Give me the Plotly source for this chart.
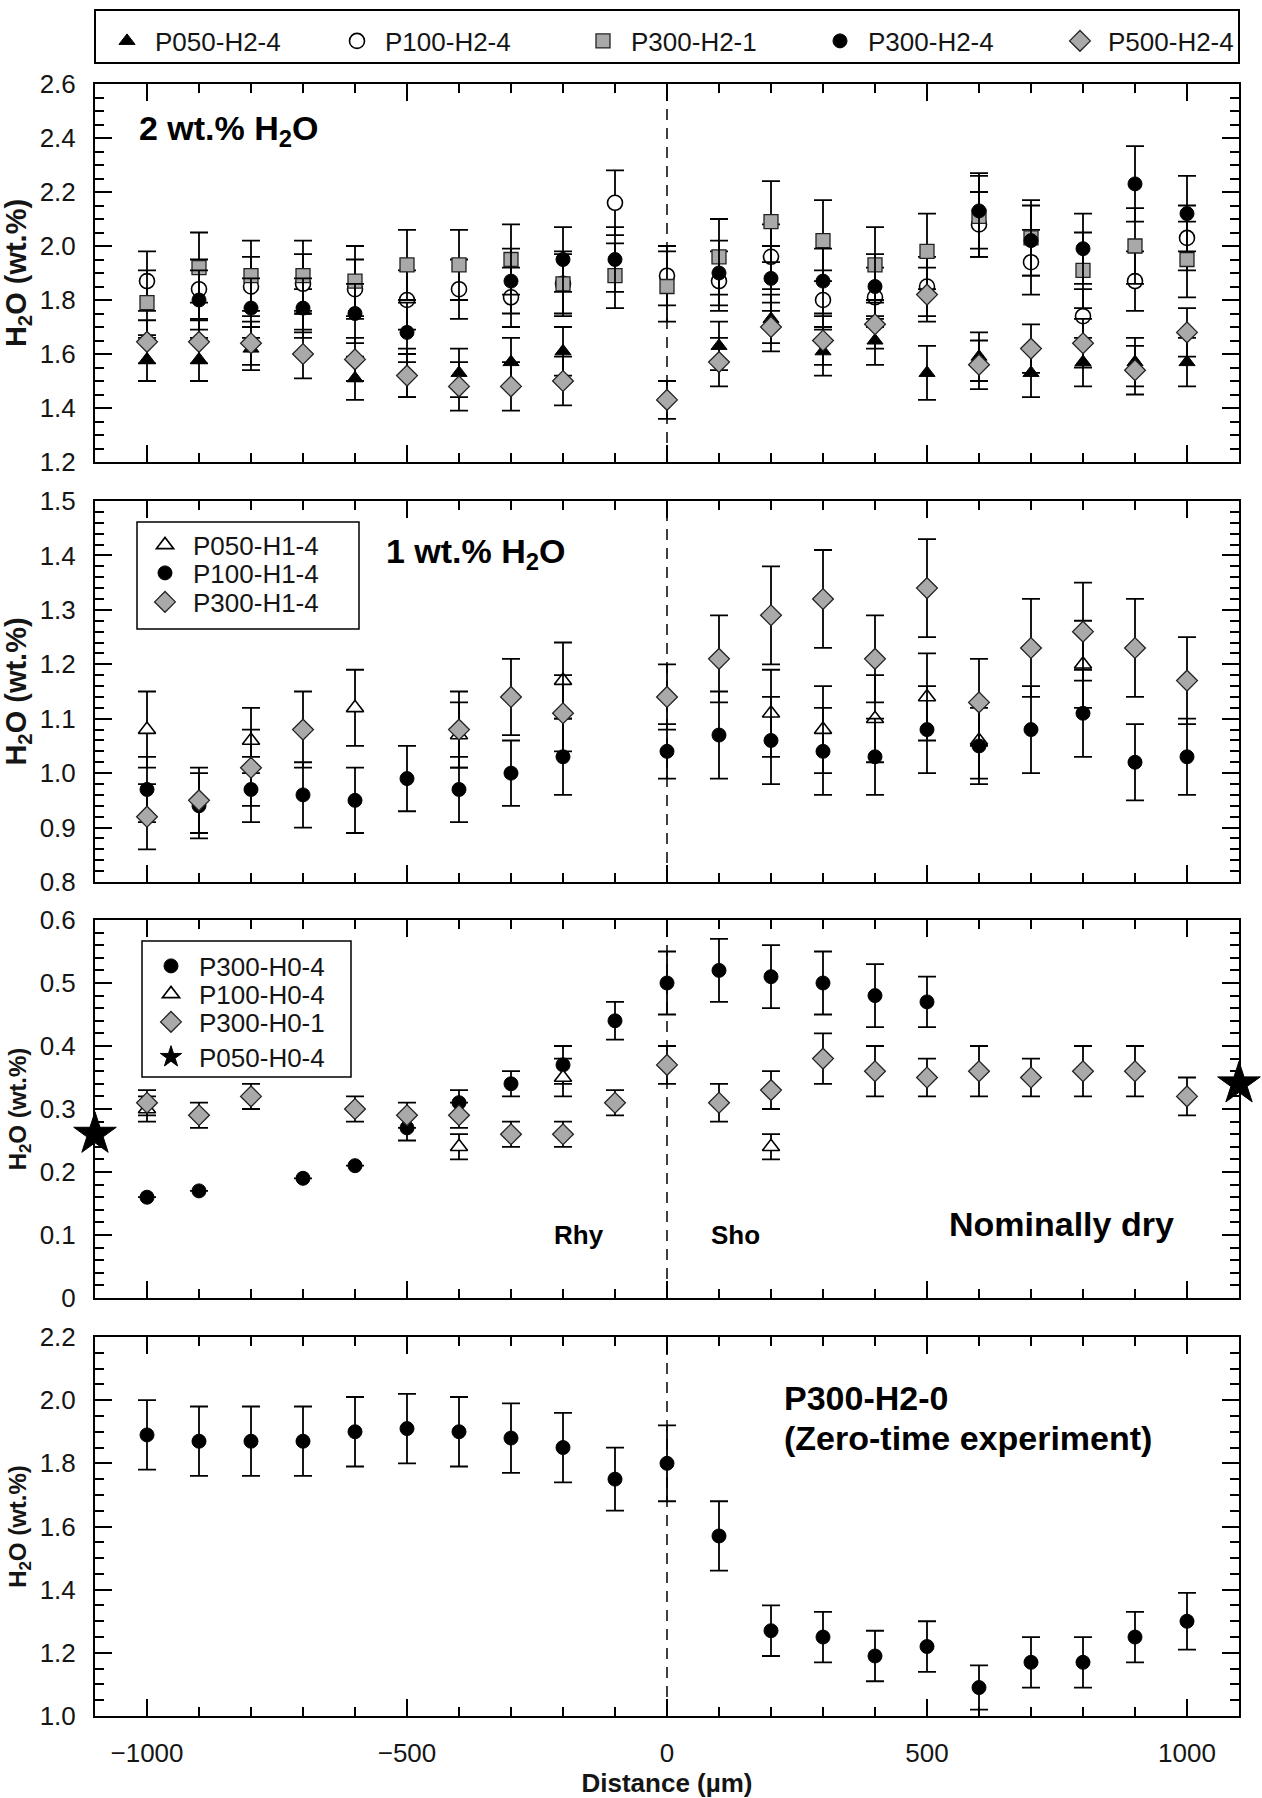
import plotly.graph_objects as go

# Measurement positions across the interface (µm)
distance = [-1000, -900, -800, -700, -600, -500, -400, -300, -200, -100, 0,
            100, 200, 300, 400, 500, 600, 700, 800, 900, 1000]

# ---------------- 2 wt.% H2O experiments ----------------
p050_h2_4 = [1.58, 1.58, 1.62, 1.76, 1.51, 1.53, 1.53, 1.57, 1.61, None, None,
             1.63, 1.73, 1.61, 1.65, 1.53, 1.59, 1.53, 1.57, 1.57, 1.57]
p050_h2_4_err = [0.08, 0.08, 0.08, 0.08, 0.08, 0.09, 0.09, 0.09, 0.09, None, None,
                 0.09, 0.09, 0.09, 0.09, 0.10, 0.09, 0.09, 0.09, 0.09, 0.09]
p100_h2_4 = [1.87, 1.84, 1.85, 1.86, 1.84, 1.80, 1.84, 1.81, 1.86, 2.16, 1.89,
             1.87, 1.96, 1.80, 1.81, 1.85, 2.08, 1.94, 1.74, 1.87, 2.03]
p100_h2_4_err = [0.11, 0.11, 0.11, 0.11, 0.11, 0.11, 0.11, 0.11, 0.11, 0.12, 0.11,
                 0.11, 0.12, 0.11, 0.11, 0.11, 0.12, 0.12, 0.10, 0.11, 0.12]
p300_h2_1 = [1.79, 1.92, 1.89, 1.89, 1.87, 1.93, 1.93, 1.95, 1.86, 1.89, 1.85,
             1.96, 2.09, 2.02, 1.93, 1.98, 2.11, 2.03, 1.91, 2.00, 1.95]
p300_h2_1_err = [0.12, 0.13, 0.13, 0.13, 0.13, 0.13, 0.13, 0.13, 0.12, 0.12, 0.13,
                 0.14, 0.15, 0.15, 0.14, 0.14, 0.15, 0.14, 0.14, 0.14, 0.14]
p300_h2_4 = [None, 1.80, 1.77, 1.77, 1.75, 1.68, None, 1.87, 1.95, 1.95, None,
             1.90, 1.88, 1.87, 1.85, None, 2.13, 2.02, 1.99, 2.23, 2.12]
p300_h2_4_err = [None, 0.11, 0.11, 0.11, 0.11, 0.11, None, 0.12, 0.12, 0.12, None,
                 0.12, 0.12, 0.12, 0.12, None, 0.14, 0.13, 0.13, 0.14, 0.14]
p500_h2_4 = [1.645, 1.645, 1.64, 1.60, 1.58, 1.52, 1.48, 1.48, 1.50, None, 1.43,
             1.57, 1.70, 1.65, 1.71, 1.82, 1.56, 1.62, 1.64, 1.54, 1.68]
p500_h2_4_err = [0.08, 0.08, 0.08, 0.09, 0.08, 0.08, 0.09, 0.09, 0.09, None, 0.07,
                 0.09, 0.09, 0.09, 0.09, 0.10, 0.09, 0.09, 0.09, 0.09, 0.09]

# ---------------- 1 wt.% H2O experiments ----------------
p050_h1_4 = [1.08, None, 1.06, None, 1.12, None, 1.07, None, 1.17, None, None,
             None, 1.11, 1.08, 1.10, 1.14, 1.06, None, 1.20, None, None]
p050_h1_4_err = [0.07, None, 0.06, None, 0.07, None, 0.06, None, 0.07, None, None,
                 None, 0.08, 0.08, 0.08, 0.08, 0.07, None, 0.08, None, None]
p100_h1_4 = [0.97, 0.94, 0.97, 0.96, 0.95, 0.99, 0.97, 1.00, 1.03, None, 1.04,
             1.07, 1.06, 1.04, 1.03, 1.08, 1.05, 1.08, 1.11, 1.02, 1.03]
p100_h1_4_err = [0.06, 0.06, 0.06, 0.06, 0.06, 0.06, 0.06, 0.06, 0.07, None, 0.05,
                 0.08, 0.08, 0.08, 0.07, 0.08, 0.07, 0.08, 0.08, 0.07, 0.07]
p300_h1_4 = [0.92, 0.95, 1.01, 1.08, None, None, 1.08, 1.14, 1.11, None, 1.14,
             1.21, 1.29, 1.32, 1.21, 1.34, 1.13, 1.23, 1.26, 1.23, 1.17]
p300_h1_4_err = [0.06, 0.06, 0.07, 0.07, None, None, 0.07, 0.07, 0.07, None, 0.06,
                 0.08, 0.09, 0.09, 0.08, 0.09, 0.08, 0.09, 0.09, 0.09, 0.08]

# ---------------- nominally dry experiments ----------------
p300_h0_4 = [0.16, 0.17, None, 0.19, 0.21, 0.27, 0.31, 0.34, 0.37, 0.44, 0.50,
             0.52, 0.51, 0.50, 0.48, 0.47, None, None, None, None, None]
p300_h0_4_err = [None, None, None, None, None, 0.02, 0.02, 0.02, 0.03, 0.03, 0.05,
                 0.05, 0.05, 0.05, 0.05, 0.04, None, None, None, None, None]
p100_h0_4 = [0.30, None, None, None, None, None, 0.24, None, 0.35, None, None,
             None, 0.24, None, None, None, None, None, None, None, None]
p100_h0_4_err = [0.02, None, None, None, None, None, 0.02, None, 0.03, None, None,
                 None, 0.02, None, None, None, None, None, None, None, None]
p300_h0_1 = [0.31, 0.29, 0.32, None, 0.30, 0.29, 0.29, 0.26, 0.26, 0.31, 0.37,
             0.31, 0.33, 0.38, 0.36, 0.35, 0.36, 0.35, 0.36, 0.36, 0.32]
p300_h0_1_err = [0.02, 0.02, 0.02, None, 0.02, 0.02, 0.02, 0.02, 0.02, 0.02, 0.03,
                 0.03, 0.03, 0.04, 0.04, 0.03, 0.04, 0.03, 0.04, 0.04, 0.03]
# starting glasses, plotted at both ends of the profile
p050_h0_4_x = [-1100, 1100]
p050_h0_4 = [0.26, 0.34]

# ---------------- zero-time experiment ----------------
p300_h2_0 = [1.89, 1.87, 1.87, 1.87, 1.90, 1.91, 1.90, 1.88, 1.85, 1.75, 1.80,
             1.57, 1.27, 1.25, 1.19, 1.22, 1.09, 1.17, 1.17, 1.25, 1.30]
p300_h2_0_err = [0.11, 0.11, 0.11, 0.11, 0.11, 0.11, 0.11, 0.11, 0.11, 0.10, 0.12,
                 0.11, 0.08, 0.08, 0.08, 0.08, 0.07, 0.08, 0.08, 0.08, 0.09]

# ---------------- page geometry (pixels) ----------------
W, H = 1262, 1798
ML, MR, MT, MB = 95, 23, 84, 82
PW = W - ML - MR
PH = H - MT - MB


def px(xp):
    """pixel column -> paper x"""
    return (xp - ML) / PW


def py(yp):
    """pixel row -> paper y"""
    return (H - MB - yp) / PH


FONT = "Liberation Sans, Arial, Helvetica, sans-serif"
INK = "#151515"
GREY = "#a9a9a9"

panels = [  # (top px, bottom px, y-range, dtick, minor dtick, tickformat, title size)
    (84, 462, [1.2, 2.6], 0.2, 0.05, ".1f", 29),
    (501, 882, [0.8, 1.5], 0.1, 0.02, ".1f", 29),
    (920, 1298, [0.0, 0.6], 0.1, 0.02, "", 24),
    (1337, 1716, [1.0, 2.2], 0.2, 0.05, ".1f", 24),
]

MK = {
    "tri_black": dict(symbol="triangle-up", size=14, color="black", line=dict(color="black", width=1)),
    "tri_open": dict(symbol="triangle-up", size=15, color="white", line=dict(color="black", width=1.6)),
    "circ_open": dict(symbol="circle", size=15, color="white", line=dict(color="black", width=1.6)),
    "circ_black": dict(symbol="circle", size=14, color="black", line=dict(color="black", width=1)),
    "sq_grey": dict(symbol="square", size=14, color=GREY, line=dict(color="#222", width=1.3)),
    "dia_grey": dict(symbol="diamond", size=16, color=GREY, line=dict(color="#222", width=1.3)),
    "star": dict(symbol="star", size=32, color="black", line=dict(color="black", width=1)),
}

fig = go.Figure()


def add(name, y, err, panel, marker, legend, x=None, show=True):
    ax = "" if panel == 1 else str(panel)
    err_cfg = dict(visible=False)
    if err is not None:
        err_cfg = dict(type="data", array=err, visible=True, color="black", thickness=1.8, width=9)
    fig.add_trace(go.Scatter(
        x=distance if x is None else x, y=y, mode="markers", name=name,
        marker=MK[marker], error_y=err_cfg, legend=legend, showlegend=show,
        xaxis="x" + ax, yaxis="y" + ax, cliponaxis=False,
    ))


# panel 1
add("P050-H2-4", p050_h2_4, p050_h2_4_err, 1, "tri_black", "legend")
add("P100-H2-4", p100_h2_4, p100_h2_4_err, 1, "circ_open", "legend4")
add("P300-H2-1", p300_h2_1, p300_h2_1_err, 1, "sq_grey", "legend5")
add("P300-H2-4", p300_h2_4, p300_h2_4_err, 1, "circ_black", "legend6")
add("P500-H2-4", p500_h2_4, p500_h2_4_err, 1, "dia_grey", "legend7")
# panel 2
add("P050-H1-4", p050_h1_4, p050_h1_4_err, 2, "tri_open", "legend2")
add("P100-H1-4", p100_h1_4, p100_h1_4_err, 2, "circ_black", "legend8")
add("P300-H1-4", p300_h1_4, p300_h1_4_err, 2, "dia_grey", "legend9")
# panel 3
add("P300-H0-4", p300_h0_4, p300_h0_4_err, 3, "circ_black", "legend3")
add("P100-H0-4", p100_h0_4, p100_h0_4_err, 3, "tri_open", "legend10")
add("P300-H0-1", p300_h0_1, p300_h0_1_err, 3, "dia_grey", "legend11")
add("P050-H0-4", p050_h0_4, None, 3, "star", "legend12", x=p050_h0_4_x)
# panel 4 (named in the panel text, not in a legend)
add("P300-H2-0", p300_h2_0, p300_h2_0_err, 4, "circ_black", "legend", show=False)

# ---------------- legends: one entry each, placed in pixel space ----------------
ITEMW = 46
SYM_OFF = (ITEMW + 10) / 2
legend_spots = {
    "legend": (127, 41), "legend4": (357, 41), "legend5": (603, 41),
    "legend6": (840, 41), "legend7": (1080, 41),
    "legend2": (165, 545), "legend8": (165, 573), "legend9": (165, 602),
    "legend3": (171, 966), "legend10": (171, 994), "legend11": (171, 1022),
    "legend12": (171, 1057),
}
layout = dict(
    width=W, height=H, showlegend=True,
    margin=dict(l=ML, r=MR, t=MT, b=MB, autoexpand=False),
    paper_bgcolor="white", plot_bgcolor="white",
    font=dict(family=FONT, color=INK, size=26),
)
for key, (sx, sy) in legend_spots.items():
    layout[key] = dict(
        x=px(sx - SYM_OFF), y=py(sy), xanchor="left", yanchor="middle",
        bgcolor="rgba(0,0,0,0)", borderwidth=0, itemwidth=ITEMW,
        font=dict(family=FONT, size=26, color=INK), itemclick=False,
    )

# ---------------- axes ----------------
for i, (top, bot, yr, dt, mdt, fmt, tsize) in enumerate(panels, start=1):
    sfx = "" if i == 1 else str(i)
    last = i == len(panels)
    xa = dict(
        domain=[0, 1], anchor="y" + sfx, range=[-1100, 1100],
        tick0=0, dtick=500, ticks="inside", ticklen=17, tickwidth=1.5, tickcolor="black",
        minor=dict(dtick=100, ticks="inside", ticklen=9, tickwidth=1.5, tickcolor="black"),
        showline=True, linecolor="black", linewidth=2, mirror="ticks",
        showgrid=False, zeroline=False, showticklabels=last,
        tickfont=dict(size=26, color=INK), ticklabelstandoff=13,
    )
    if last:
        xa["title"] = dict(text="<b>Distance (µm)</b>", font=dict(size=26, color=INK), standoff=0)
    layout["xaxis" + sfx] = xa
    layout["yaxis" + sfx] = dict(
        domain=[py(bot), py(top)], anchor="x" + sfx, range=yr,
        tick0=0, dtick=dt, tickformat=fmt,
        ticks="inside", ticklen=17, tickwidth=1.5, tickcolor="black",
        minor=dict(dtick=mdt, ticks="inside", ticklen=9, tickwidth=1.5, tickcolor="black"),
        showline=True, linecolor="black", linewidth=2, mirror="ticks",
        showgrid=False, zeroline=False,
        tickfont=dict(size=26, color=INK), ticklabelstandoff=12,
        title=dict(text="<b>H<sub>2</sub>O (wt.%)</b>", font=dict(size=tsize, color=INK), standoff=6),
    )

# interface marker and legend frames
shapes = []
for i in range(1, 5):
    sfx = "" if i == 1 else str(i)
    shapes.append(dict(type="line", xref="x" + sfx, yref="y" + sfx + " domain",
                       x0=0, x1=0, y0=0, y1=1, layer="below",
                       line=dict(color="black", width=1.5, dash="11px,8px")))
for (x0, y0, x1, y1, lw) in [(ML, 10, W - MR, 63, 2), (137, 522, 359, 629, 1.5), (142, 941, 351, 1077, 1.5)]:
    shapes.append(dict(type="rect", xref="paper", yref="paper",
                       x0=px(x0), x1=px(x1), y0=py(y1), y1=py(y0),
                       line=dict(color="black", width=lw), fillcolor="rgba(0,0,0,0)"))
layout["shapes"] = shapes

bold = dict(family=FONT, color="black")
layout["annotations"] = [
    dict(text="<b>2 wt.% H<sub>2</sub>O</b>", x=-1019, y=2.427, xref="x", yref="y",
         xanchor="left", yanchor="middle", showarrow=False, font=dict(size=34, **bold)),
    dict(text="<b>1 wt.% H<sub>2</sub>O</b>", x=-544, y=1.404, xref="x2", yref="y2",
         xanchor="left", yanchor="middle", showarrow=False, font=dict(size=34, **bold)),
    dict(text="<b>Rhy</b>", x=-169, y=0.10, xref="x3", yref="y3",
         xanchor="center", yanchor="middle", showarrow=False, font=dict(size=26, **bold)),
    dict(text="<b>Sho</b>", x=131, y=0.10, xref="x3", yref="y3",
         xanchor="center", yanchor="middle", showarrow=False, font=dict(size=26, **bold)),
    dict(text="<b>Nominally dry</b>", x=758, y=0.117, xref="x3", yref="y3",
         xanchor="center", yanchor="middle", showarrow=False, font=dict(size=34, **bold)),
    dict(text="<b>P300-H2-0</b>", x=221, y=2.007, xref="x4", yref="y4",
         xanchor="left", yanchor="middle", showarrow=False, font=dict(size=34, **bold)),
    dict(text="<b>(Zero-time experiment)</b>", x=221, y=1.88, xref="x4", yref="y4",
         xanchor="left", yanchor="middle", showarrow=False, font=dict(size=34, **bold)),
]

fig.update_layout(**layout)
fig.write_html("out.html", config={"displayModeBar": False})
